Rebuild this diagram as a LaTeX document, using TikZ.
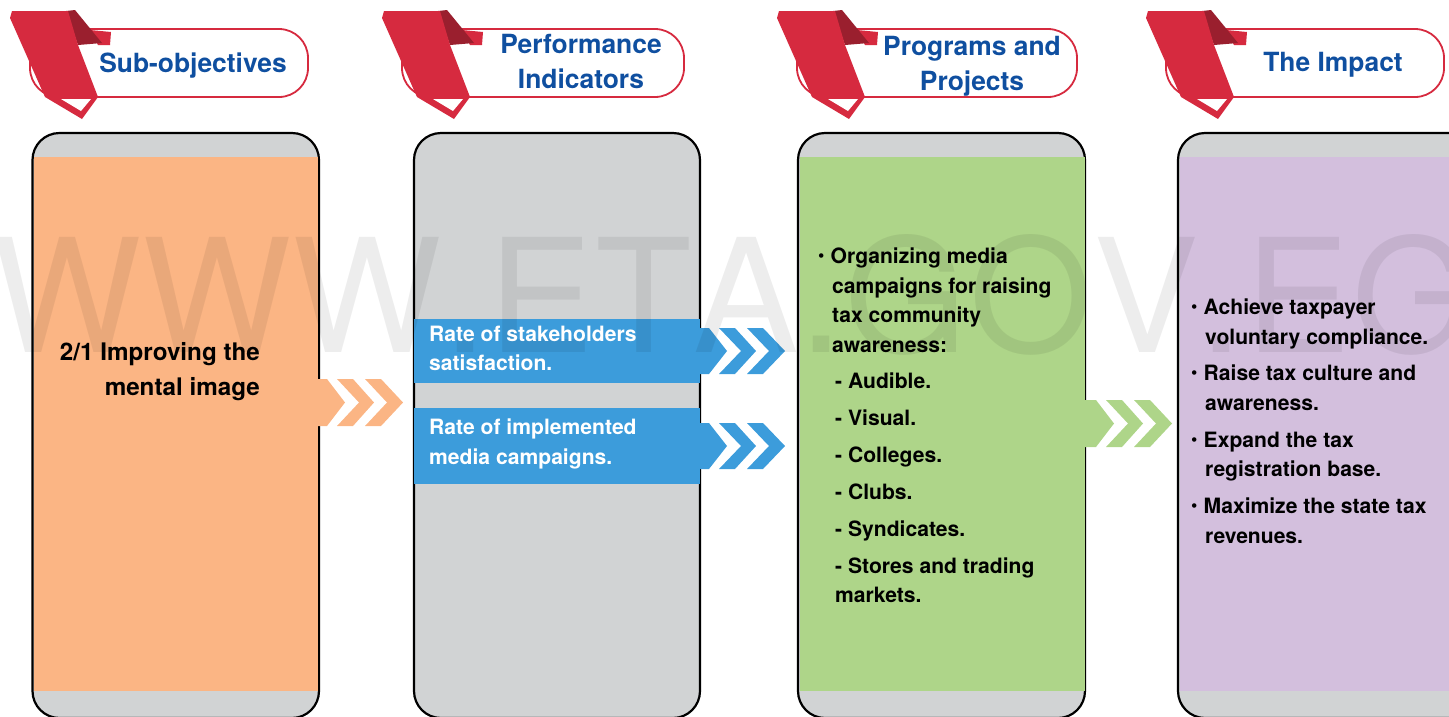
\documentclass[tikz,border=0pt]{standalone}
\usepackage{fontspec}
\setmainfont{TeX Gyre Heros}
\newfontfamily\wmfont[LetterSpace=0.8,Kerning=Off]{TeX Gyre Heros}
\definecolor{ribred}{HTML}{D62A3F}
\definecolor{ribdark}{HTML}{9A1F2E}
\definecolor{headblue}{HTML}{0F4FA0}
\definecolor{panelgray}{HTML}{D1D3D4}
\definecolor{porange}{HTML}{FBB584}
\definecolor{pgreen}{HTML}{AED589}
\definecolor{ppurple}{HTML}{D3BFDD}
\definecolor{pblue}{HTML}{3C9CDB}
\newcommand{\bul}{\makebox[13.5pt][l]{\fontsize{30}{29.4}\selectfont ·}}
\tikzset{
  panel/.style={draw=black,line width=2.2pt,fill=panelgray,rounded corners=27pt},
  pill/.style={draw=ribred,line width=1.8pt,fill=white,rounded corners=29pt},
  heading/.style={font=\fontsize{26.4}{35}\selectfont\bfseries,text=headblue,align=center,inner sep=0pt},
  bodytext/.style={font=\fontsize{21.1}{29.4}\selectfont\bfseries,text=black,align=left,inner sep=0pt,anchor=north west},
  whitetext/.style={bodytext,text=white},
  objtext/.style={font=\fontsize{24.2}{35}\selectfont\bfseries,text=black,align=right,inner sep=0pt,anchor=north east},
  wmark/.style={font=\fontsize{158}{158}\wmfont,text=black,opacity=0.07,inner sep=0pt,anchor=base west}
}
\newcommand{\ribbonat}[1]{%
  \begin{scope}[xshift=#1pt]
    \fill[ribred] (90,30) -- (111,32) -- (110,45) -- (98,45) -- cycle;
    \fill[ribdark] (66,11) -- (75,10) -- (102,43) -- (78,45) -- cycle;
    \fill[ribred] (10,18) -- (12,11) -- (68,11) -- (78,45) -- (98,97) -- (82,119) -- (45,97) -- cycle;
    \fill[white] (61,99) -- (91,99) -- (81,111) -- cycle;
  \end{scope}}
\newcommand{\chevrons}[4]{% base x, top, bottom, colour
  \pgfmathsetmacro{\cmid}{(#2+#3)/2}
  \fill[#4] (#1,#2) -- ({#1+19},#2) -- ({#1+37},\cmid) -- ({#1+19},#3) -- (#1,#3) -- cycle;
  \fill[#4] ({#1+29},#2) -- ({#1+45},#2) -- ({#1+66},\cmid) -- ({#1+45},#3) -- ({#1+29},#3) -- ({#1+51},\cmid) -- cycle;
  \fill[#4] ({#1+57},#2) -- ({#1+73},#2) -- ({#1+95},\cmid) -- ({#1+73},#3) -- ({#1+57},#3) -- ({#1+79},\cmid) -- cycle;
}
\begin{document}
\begin{tikzpicture}[x=1pt,y=-1pt]
\useasboundingbox (0,0) rectangle (1449,716);
\begin{scope}
\clip (0,0) rectangle (1449,716);
% panels
\path[panel] (32.5,133) rectangle (319,718);
\path[panel] (414,133) rectangle (700,718);
\path[panel] (798,133) rectangle (1085,718);
\path[panel] (1178,133) rectangle (1480,718);
\fill[porange] (34,157) rectangle (318,691);
\fill[pgreen] (800,157) rectangle (1085,691);
\fill[ppurple] (1180,157) rectangle (1449,691);
% header pills
\draw[pill] (30,29) rectangle (308,97);
\draw[pill] (402,29) rectangle (684,97);
\draw[pill] (797,29) rectangle (1077,97);
\draw[pill] (1166,29) rectangle (1444,97);
\ribbonat{0}
\ribbonat{372}
\ribbonat{767}
\ribbonat{1136}
% blue bars
\fill[pblue] (414,319) rectangle (700,383);
\fill[pblue] (414,408) rectangle (700,484);
% chevrons
\chevrons{308}{379}{426}{porange}
\chevrons{690}{328}{374}{pblue}
\chevrons{690}{423}{469}{pblue}
\chevrons{1077}{400}{447}{pgreen}
% watermark
\node[wmark] (wm) at (-8,352.5) {WWW.ETA.GOV.EG};
\end{scope}
% headings
\node[heading] (h1) at (193,65.5) {Sub-objectives};
\node[heading] (h2) at (581,61) {Performance\\Indicators};
\node[heading] (h3) at (972,66.5) {Programs and\\Projects};
\node[heading] (h4) at (1333,64.5) {The Impact};
% objective
\node[objtext] (obj) at (260,342) {2/1 Improving the\\mental image};
% indicators
\node[whitetext] (ind1) at (429,326) {Rate of stakeholders\\satisfaction.};
\node[whitetext] (ind2) at (429,419) {Rate of implemented\\media campaigns.};
% programs
\node[bodytext] (p1) at (817,248) {\bul Organizing media\\\hspace*{15pt}campaigns for raising\\\hspace*{15pt}tax community\\\hspace*{15pt}awareness:};
\node[bodytext] (p2) at (835,372.5) {- Audible.};
\node[bodytext] (p3) at (835,409.5) {- Visual.};
\node[bodytext] (p4) at (835,446.5) {- Colleges.};
\node[bodytext] (p5) at (835,483.5) {- Clubs.};
\node[bodytext] (p6) at (835,520.5) {- Syndicates.};
\node[bodytext] (p7) at (835,557.5) {- Stores and trading\\markets.};
% impact
\node[bodytext] (i1) at (1190,299) {\bul Achieve taxpayer\\\hspace*{15pt}voluntary compliance.};
\node[bodytext] (i2) at (1190,365) {\bul Raise tax culture and\\\hspace*{15pt}awareness.};
\node[bodytext] (i3) at (1190,432) {\bul Expand the tax\\\hspace*{15pt}registration base.};
\node[bodytext] (i4) at (1190,498) {\bul Maximize the state tax\\\hspace*{15pt}revenues.};
\end{tikzpicture}
\end{document}
